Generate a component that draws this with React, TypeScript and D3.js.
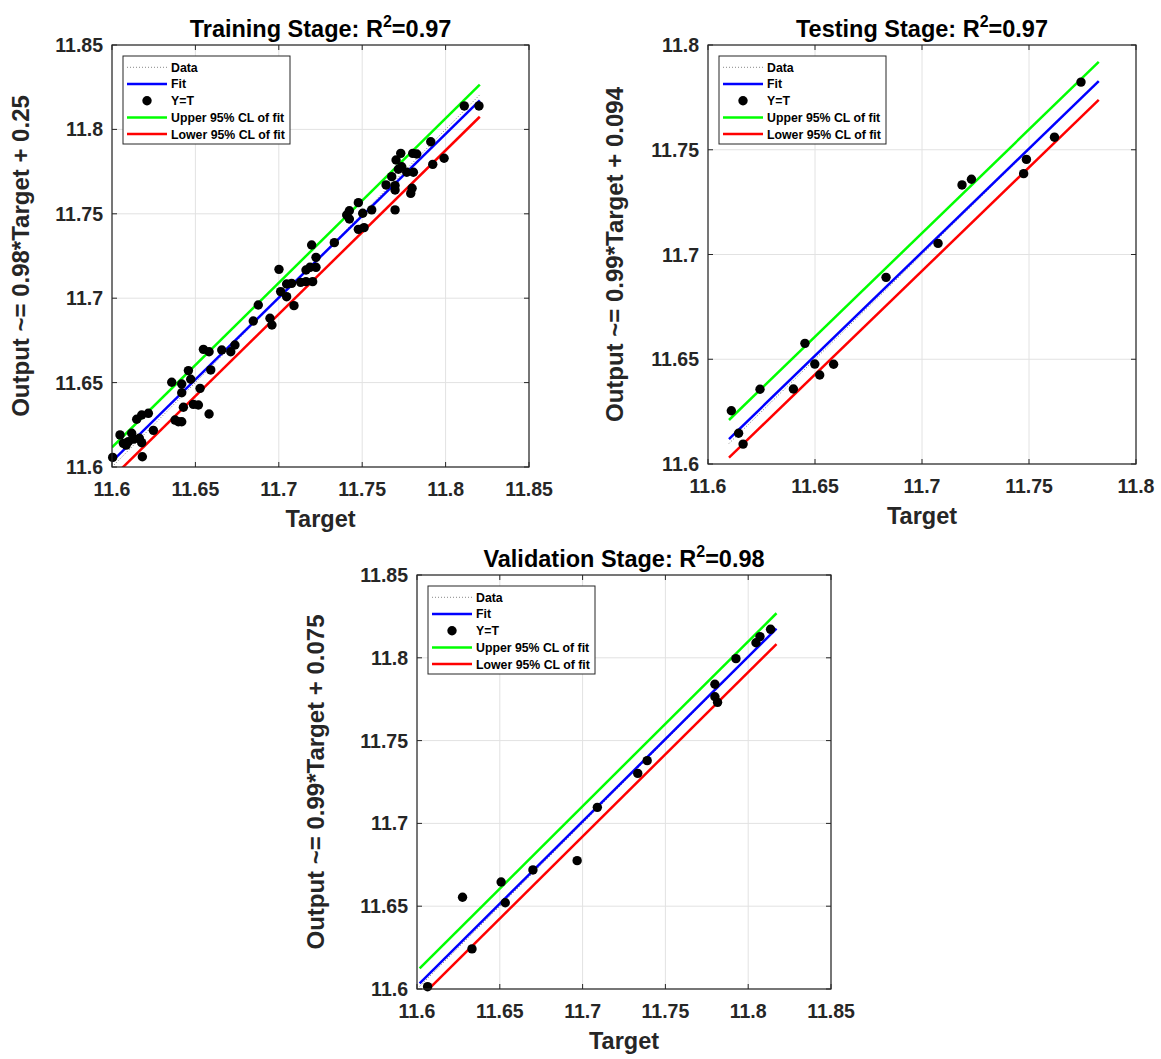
import React from "react";
import * as d3 from "d3";

// ---------- DATA ----------
const ticks25 = [11.6, 11.65, 11.7, 11.75, 11.8, 11.85];
const ticks20 = [11.6, 11.65, 11.7, 11.75, 11.8];
const tickLabels25 = ["11.6", "11.65", "11.7", "11.75", "11.8", "11.85"];
const tickLabels20 = ["11.6", "11.65", "11.7", "11.75", "11.8"];

const legendLabels = ["Data", "Fit", "Y=T", "Upper 95% CL of fit", "Lower 95% CL of fit"];

const trainTarget = [
  11.6004, 11.6048, 11.6068, 11.6098, 11.6118, 11.6148, 11.6178, 11.6218, 11.6164, 11.6178,
  11.6182, 11.6248, 11.6358, 11.6378, 11.6398, 11.6418, 11.6418, 11.6418, 11.6428, 11.6458,
  11.6472, 11.6488, 11.6518, 11.6528, 11.6548, 11.6582, 11.6582, 11.6592, 11.6658, 11.6712,
  11.6737, 11.6847, 11.6877, 11.6947, 11.6959, 11.7001, 11.7011, 11.7047, 11.7047, 11.7077,
  11.7091, 11.7131, 11.7163, 11.7163, 11.7187, 11.7203, 11.7223, 11.7223, 11.7197, 11.7333,
  11.7407, 11.7423, 11.7423, 11.7477, 11.7503, 11.7557, 11.7477, 11.7511, 11.7643, 11.7677,
  11.7697, 11.7697, 11.7697, 11.7703, 11.7731, 11.7737, 11.7717, 11.7767, 11.7807, 11.7791,
  11.7799, 11.7803, 11.7827, 11.7911, 11.7923, 11.7991, 11.8112, 11.8200, 11.6085, 11.6130,
];
const trainOutput = [
  11.6057, 11.6190, 11.6140, 11.6150, 11.6200, 11.6283, 11.6308, 11.6318, 11.6170, 11.6144,
  11.6061, 11.6217, 11.6502, 11.6278, 11.6268, 11.6268, 11.6492, 11.6440, 11.6354, 11.6571,
  11.6520, 11.6371, 11.6367, 11.6466, 11.6697, 11.6683, 11.6314, 11.6575, 11.6693, 11.6683,
  11.6723, 11.6865, 11.6960, 11.6881, 11.6841, 11.7171, 11.7039, 11.7009, 11.7084, 11.7088,
  11.6956, 11.7094, 11.7098, 11.7167, 11.7183, 11.7098, 11.7183, 11.7242, 11.7315, 11.7329,
  11.7493, 11.7469, 11.7518, 11.7566, 11.7503, 11.7523, 11.7408, 11.7418, 11.7671, 11.7720,
  11.7667, 11.7641, 11.7523, 11.7819, 11.7858, 11.7779, 11.7764, 11.7746, 11.7746, 11.7621,
  11.7651, 11.7858, 11.7854, 11.7927, 11.7793, 11.7829, 11.8139, 11.8139, 11.6130, 11.6165,
];

const testTarget = [
  11.6109, 11.6143, 11.6164, 11.6243, 11.6399, 11.6453, 11.6499, 11.6522, 11.6587,
  11.6832, 11.7075, 11.7187, 11.7231, 11.7475, 11.7488, 11.7619, 11.7743,
];
const testOutput = [
  11.6254, 11.6147, 11.6095, 11.6357, 11.6358, 11.6576, 11.6477, 11.6425, 11.6476,
  11.6891, 11.7053, 11.7332, 11.7359, 11.7386, 11.7454, 11.7560, 11.7823,
];

const valTarget = [
  11.6064, 11.6275, 11.6332, 11.6508, 11.6533, 11.6700, 11.6967, 11.7089, 11.7333,
  11.7390, 11.7799, 11.7799, 11.7815, 11.7926, 11.8047, 11.8071, 11.8135,
];
const valOutput = [
  11.6014, 11.6554, 11.6242, 11.6646, 11.6521, 11.6719, 11.6775, 11.7097, 11.7302,
  11.7379, 11.7840, 11.7765, 11.7731, 11.7995, 11.8091, 11.8128, 11.8172,
];

// fitted lines: [x0, y0, x1, y1]
const trainFit = [11.6, 11.6033, 11.8205, 11.8172];
const trainUpper = [11.6, 11.6117, 11.8205, 11.8265];
const trainLower = [11.6, 11.5935, 11.8205, 11.8075];
const trainIdentity = [11.6, 11.6, 11.8205, 11.8205];

const testFit = [11.6098, 11.6119, 11.7826, 11.7828];
const testUpper = [11.6098, 11.621, 11.7826, 11.7919];
const testLower = [11.6098, 11.603, 11.7826, 11.7738];
const testIdentity = [11.6098, 11.6098, 11.7826, 11.7826];

const valFit = [11.6016, 11.6034, 11.8171, 11.8176];
const valUpper = [11.6016, 11.6125, 11.8171, 11.8269];
const valLower = [11.6016, 11.5945, 11.8171, 11.8083];
const valIdentity = [11.6016, 11.6016, 11.8171, 11.8171];

// ---------- STYLE ----------
const FONT = "'Liberation Sans', Arial, Helvetica, sans-serif";
const AX = "#262626";
const GRID = "#e2e2e2";

type PanelProps = {
  id: string;
  left: number; top: number; right: number; bottom: number;
  domainMax: number;
  ticks: number[]; tickLabels: string[];
  xs: number[]; ys: number[];
  fit: number[]; upper: number[]; lower: number[]; identity: number[];
  title: string; r2: string; ylabel: string; ylabelOffset: number;
};

function Panel(p: PanelProps) {
  const x = d3.scaleLinear().domain([11.6, p.domainMax]).range([p.left, p.right]);
  const y = d3.scaleLinear().domain([11.6, p.domainMax]).range([p.bottom, p.top]);
  const line = d3.line<[number, number]>().x((d) => x(d[0])).y((d) => y(d[1]));
  const seg = (s: number[]) => line([[s[0], s[1]], [s[2], s[3]]]) || "";
  const cx = (p.left + p.right) / 2;
  const cy = (p.top + p.bottom) / 2;
  const w = p.right - p.left;
  const h = p.bottom - p.top;
  const lgX = p.left + 11;
  const lgY = p.top + 11;
  const lgColors = ["#888888", "#0000ff", "none", "#00ff00", "#ff0000"];
  const LW = 2.5;
  return (
    <g>
      <defs>
        <clipPath id={p.id}>
          <rect x={p.left} y={p.top} width={w} height={h} />
        </clipPath>
      </defs>
      <rect x={p.left} y={p.top} width={w} height={h} fill="#fff" />
      {p.ticks.map((t, i) => (
        <g key={"g" + i}>
          <line x1={x(t)} x2={x(t)} y1={p.top} y2={p.bottom} stroke={GRID} strokeWidth={1} />
          <line x1={p.left} x2={p.right} y1={y(t)} y2={y(t)} stroke={GRID} strokeWidth={1} />
        </g>
      ))}
      <g clipPath={`url(#${p.id})`}>
        <path d={seg(p.identity)} stroke="#777" strokeWidth={1} strokeDasharray="1 2" fill="none" />
        <path d={seg(p.upper)} stroke="#00ff00" strokeWidth={LW} fill="none" />
        <path d={seg(p.lower)} stroke="#ff0000" strokeWidth={LW} fill="none" />
        <path d={seg(p.fit)} stroke="#0000ff" strokeWidth={LW} fill="none" />
      </g>
      {p.xs.map((v, i) => (
        <circle key={"p" + i} cx={x(v)} cy={y(p.ys[i])} r={4.7} fill="#000" />
      ))}
      {/* axes box */}
      <rect x={p.left} y={p.top} width={w} height={h} fill="none" stroke={AX} strokeWidth={1.2} />
      {p.ticks.map((t, i) => (
        <g key={"t" + i} stroke={AX} strokeWidth={1}>
          <line x1={x(t)} x2={x(t)} y1={p.bottom} y2={p.bottom - 5} />
          <line x1={x(t)} x2={x(t)} y1={p.top} y2={p.top + 5} />
          <line x1={p.left} x2={p.left + 5} y1={y(t)} y2={y(t)} />
          <line x1={p.right} x2={p.right - 5} y1={y(t)} y2={y(t)} />
        </g>
      ))}
      {p.ticks.map((t, i) => (
        <text key={"xl" + i} x={x(t)} y={p.bottom + 29} textAnchor="middle" fontSize={19.5}
          fontWeight="bold" fill={AX} fontFamily={FONT}>{p.tickLabels[i]}</text>
      ))}
      {p.ticks.map((t, i) => (
        <text key={"yl" + i} x={p.left - 9} y={y(t) + 7} textAnchor="end" fontSize={19.5}
          fontWeight="bold" fill={AX} fontFamily={FONT}>{p.tickLabels[i]}</text>
      ))}
      <text x={cx} y={p.bottom + 60} textAnchor="middle" fontSize={23.5} fontWeight="bold"
        fill={AX} fontFamily={FONT}>Target</text>
      <text transform={`translate(${p.left - p.ylabelOffset},${cy}) rotate(-90)`} textAnchor="middle"
        fontSize={24} fontWeight="bold" fill={AX} fontFamily={FONT}>{p.ylabel}</text>
      <text x={cx} y={p.top - 8} textAnchor="middle" fontSize={23.5} fontWeight="bold" fill="#000"
        fontFamily={FONT}>
        <tspan>{p.title + ": R"}</tspan>
        <tspan dy={-10} fontSize={16}>2</tspan>
        <tspan dy={10}>{"=" + p.r2}</tspan>
      </text>
      {/* legend */}
      <rect x={lgX} y={lgY} width={167} height={88} fill="#fff" stroke={AX} strokeWidth={1} />
      {legendLabels.map((lab, i) => {
        const ly = lgY + 11.3 + i * 16.7;
        return (
          <g key={"lg" + i}>
            {i === 0 && (
              <line x1={lgX + 4} x2={lgX + 44} y1={ly} y2={ly} stroke="#888" strokeWidth={1}
                strokeDasharray="1 2" />
            )}
            {i === 2 && <circle cx={lgX + 24} cy={ly} r={4.7} fill="#000" />}
            {i !== 0 && i !== 2 && (
              <line x1={lgX + 4} x2={lgX + 44} y1={ly} y2={ly} stroke={lgColors[i]} strokeWidth={LW} />
            )}
            <text x={lgX + 48} y={ly + 4.4} fontSize={12.3} fontWeight="bold" fill="#000"
              fontFamily={FONT}>{lab}</text>
          </g>
        );
      })}
    </g>
  );
}

export default function App() {
  return (
    <svg width={1161} height={1059} style={{ position: "absolute", left: 0, top: 0, background: "#fff" }}>
      <rect x={0} y={0} width={1161} height={1059} fill="#fff" />
      <Panel id="c1" left={112} top={45} right={529} bottom={467} domainMax={11.85}
        ticks={ticks25} tickLabels={tickLabels25} xs={trainTarget} ys={trainOutput}
        fit={trainFit} upper={trainUpper} lower={trainLower} identity={trainIdentity}
        title="Training Stage" r2="0.97" ylabel="Output ~= 0.98*Target + 0.25" ylabelOffset={83} />
      <Panel id="c2" left={708} top={45} right={1136} bottom={464} domainMax={11.8}
        ticks={ticks20} tickLabels={tickLabels20} xs={testTarget} ys={testOutput}
        fit={testFit} upper={testUpper} lower={testLower} identity={testIdentity}
        title="Testing Stage" r2="0.97" ylabel="Output ~= 0.99*Target + 0.094" ylabelOffset={85} />
      <Panel id="c3" left={417} top={575} right={831} bottom={989} domainMax={11.85}
        ticks={ticks25} tickLabels={tickLabels25} xs={valTarget} ys={valOutput}
        fit={valFit} upper={valUpper} lower={valLower} identity={valIdentity}
        title="Validation Stage" r2="0.98" ylabel="Output ~= 0.99*Target + 0.075" ylabelOffset={93} />
    </svg>
  );
}
